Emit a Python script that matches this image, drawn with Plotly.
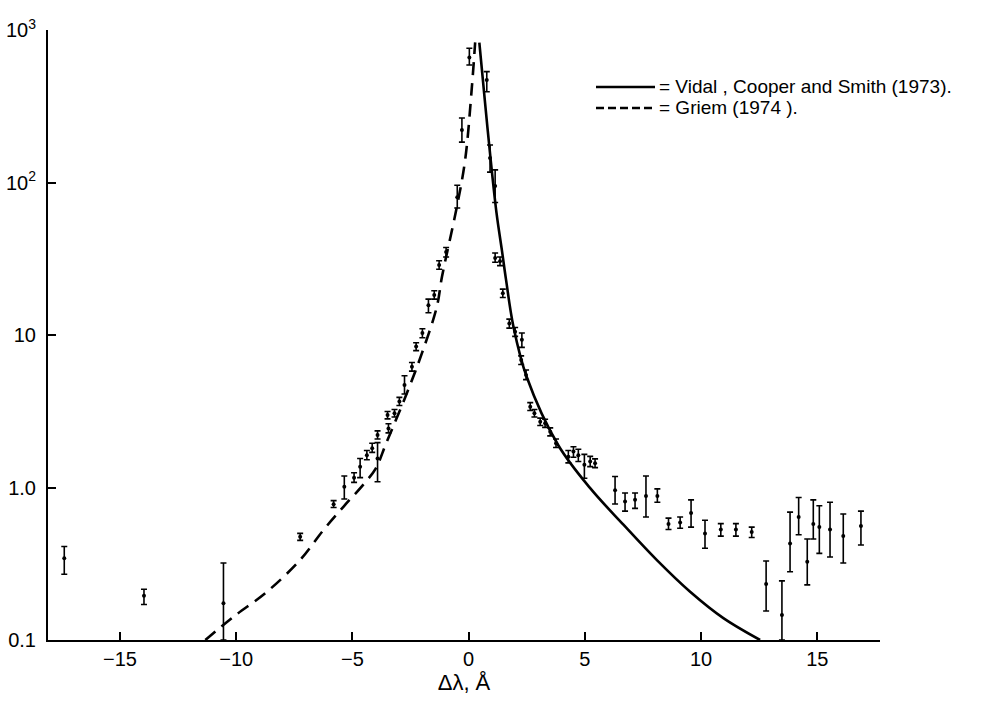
import plotly.graph_objects as go

# ---- observed points (Δλ in Å, intensity) with error-bar limits ----
X_OBS = [-17.4, -13.97, -10.55, -7.25, -5.81, -5.35, -4.93, -4.67, -4.38, -4.15,
         -3.92, -3.92, -3.49, -3.45, -3.19, -2.98, -2.76, -2.44, -2.26, -1.99,
         -1.73, -1.48, -1.27, -0.97, -0.49, -0.29, 0.03, 0.78, 0.92, 1.14,
         1.14, 1.35, 1.47, 1.75, 2.0, 2.29, 2.26, 2.47, 2.65, 2.83,
         3.08, 3.29, 3.51, 3.76, 4.29, 4.51, 4.72, 4.98, 5.23, 5.44,
         6.3, 6.73, 7.16, 7.63, 8.12, 8.6, 9.1, 9.57, 10.17, 10.85,
         11.5, 12.18, 12.8, 13.48, 13.83, 14.2, 14.57, 14.83, 15.09, 15.55,
         16.12, 16.88]
Y_OBS = [0.344, 0.195, 0.174, 0.475, 0.776, 1.01, 1.16, 1.37, 1.63, 1.81,
         1.55, 2.21, 2.99, 2.44, 3.07, 3.66, 4.7, 6.2, 8.4, 10.3,
         15.7, 18.3, 28.8, 35, 80, 221, 660, 470, 145, 95,
         32, 30.5, 18.8, 11.9, 10.5, 9.3, 6.85, 5.47, 3.39, 3.07,
         2.7, 2.64, 2.32, 1.95, 1.59, 1.72, 1.63, 1.41, 1.48, 1.44,
         0.96, 0.81, 0.83, 0.88, 0.88, 0.577, 0.59, 0.68, 0.50, 0.53,
         0.53, 0.51, 0.233, 0.146, 0.43, 0.64, 0.326, 0.577, 0.55, 0.53,
         0.48, 0.56]
Y_LO = [0.27, 0.171, 0.1, 0.45, 0.74, 0.84, 1.08, 1.16, 1.52, 1.70,
        1.09, 2.08, 2.82, 2.28, 2.90, 3.45, 4.1, 5.8, 7.9, 9.6,
        14.0, 17.2, 27.0, 32.5, 68, 184, 589, 394, 117, 74,
        30, 28.5, 17.6, 11.1, 9.8, 8.3, 6.4, 5.1, 3.2, 2.9,
        2.55, 2.48, 2.18, 1.83, 1.45, 1.58, 1.48, 1.15, 1.37, 1.35,
        0.78, 0.70, 0.73, 0.64, 0.80, 0.53, 0.54, 0.55, 0.40, 0.48,
        0.48, 0.47, 0.155, 0.1, 0.28, 0.49, 0.23, 0.46, 0.37, 0.35,
        0.32, 0.42]
Y_HI = [0.41, 0.215, 0.32, 0.50, 0.82, 1.19, 1.25, 1.55, 1.75, 1.95,
        1.97, 2.35, 3.15, 2.62, 3.25, 3.90, 5.4, 6.6, 8.9, 11.0,
        17.2, 19.5, 30.7, 37.5, 96, 265, 759, 533, 176, 121,
        34.5, 32.5, 20, 12.7, 11.2, 10.3, 7.3, 5.9, 3.6, 3.25,
        2.85, 2.8, 2.46, 2.08, 1.75, 1.85, 1.78, 1.65, 1.6, 1.54,
        1.18, 0.92, 0.92, 1.19, 0.98, 0.63, 0.64, 0.83, 0.61, 0.58,
        0.58, 0.55, 0.33, 0.244, 0.69, 0.86, 0.46, 0.83, 0.76, 0.80,
        0.67, 0.70]

# ---- theoretical profiles ----
X_VIDAL = [0.46, 0.7, 0.92, 1.2, 1.43, 1.61, 1.93, 2.5, 3.85, 5.23,
           6.66, 8.09, 9.53, 10.96, 12.54]
Y_VIDAL = [826, 340, 155, 63, 36, 23, 11.3, 5.3, 1.9, 0.99,
           0.57, 0.335, 0.207, 0.139, 0.1]
X_GRIEM = [-11.33, -10.12, -8.68, -7.25, -6.25, -5.38, -4.52, -4.0, -3.55,
           -2.66, -2.01, -1.37, -1.15, -0.51, -0.15, 0.14, 0.28]
Y_GRIEM = [0.1, 0.142, 0.207, 0.335, 0.526, 0.75, 1.05, 1.33, 1.95,
           4.15, 7.6, 15.3, 24, 69, 141, 425, 830]

X_TICKS = [-15, -10, -5, 0, 5, 10, 15]
X_TICKTEXT = ["\u221215", "\u221210", "\u22125", "0", "5", "10", "15"]
Y_TICKS = [0.1, 1, 10, 100, 1000]
Y_TICKTEXT = ["0.1", "1.0", "10", "10<sup>2</sup>", "10<sup>3</sup>"]

LEGEND_SOLID = "= Vidal , Cooper and Smith (1973)."
LEGEND_DASH = "= Griem (1974 )."

FONT = "Liberation Sans, Arial, sans-serif"

err_plus = [h - y for h, y in zip(Y_HI, Y_OBS)]
err_minus = [y - l for y, l in zip(Y_OBS, Y_LO)]

fig = go.Figure()
fig.add_trace(go.Scatter(x=X_VIDAL, y=Y_VIDAL, mode="lines",
                         line=dict(color="black", width=2.6, shape="spline", smoothing=1.0),
                         showlegend=False, hoverinfo="skip"))
fig.add_trace(go.Scatter(x=X_GRIEM, y=Y_GRIEM, mode="lines",
                         line=dict(color="black", width=2.6, dash="13px,8px",
                                   shape="spline", smoothing=1.0),
                         showlegend=False, hoverinfo="skip"))
fig.add_trace(go.Scatter(
    x=X_OBS, y=Y_OBS, mode="markers",
    marker=dict(color="black", size=4),
    error_y=dict(type="data", symmetric=False, array=err_plus,
                 arrayminus=err_minus, color="black", thickness=1.6, width=3),
    showlegend=False))

# legend drawn by hand (line samples + text)
def px2paper(px, py):
    return (px - 48) / 832.0, (640 - py) / 610.0

for py, dash, label in [(87, "solid", LEGEND_SOLID), (108, "dash", LEGEND_DASH)]:
    x0, y0 = px2paper(596, py)
    x1, _ = px2paper(655, py)
    fig.add_shape(type="line", xref="paper", yref="paper", x0=x0, x1=x1, y0=y0, y1=y0,
                  line=dict(color="black", width=2.4,
                            dash="solid" if dash == "solid" else "8px,4px"))
    tx, _ = px2paper(657, py)
    fig.add_annotation(xref="paper", yref="paper", x=tx, y=y0, text=label,
                       showarrow=False, xanchor="left", yanchor="middle",
                       font=dict(family=FONT, size=19, color="black"))

fig.update_layout(
    width=981, height=704,
    margin=dict(l=48, r=101, t=30, b=64),
    paper_bgcolor="white", plot_bgcolor="white",
    font=dict(family=FONT, size=20, color="black"),
    showlegend=False,
)
fig.update_xaxes(range=[-18.1, 17.7], tickvals=X_TICKS, ticktext=X_TICKTEXT,
                 ticks="inside", ticklen=8, tickwidth=1.5, tickcolor="black",
                 showline=True, linecolor="black", linewidth=2,
                 showgrid=False, zeroline=False, automargin=False,
                 tickfont=dict(size=20),
                 title=dict(text="\u0394\u03bb, \u00c5", font=dict(size=22), standoff=4))
fig.update_yaxes(type="log", range=[-1, 3], tickvals=Y_TICKS, ticktext=Y_TICKTEXT,
                 ticks="inside", ticklen=8, tickwidth=1.5, tickcolor="black",
                 showline=True, linecolor="black", linewidth=2,
                 showgrid=False, zeroline=False, automargin=False,
                 tickfont=dict(size=20), ticklabelstandoff=6)

fig.write_html("out.html")
